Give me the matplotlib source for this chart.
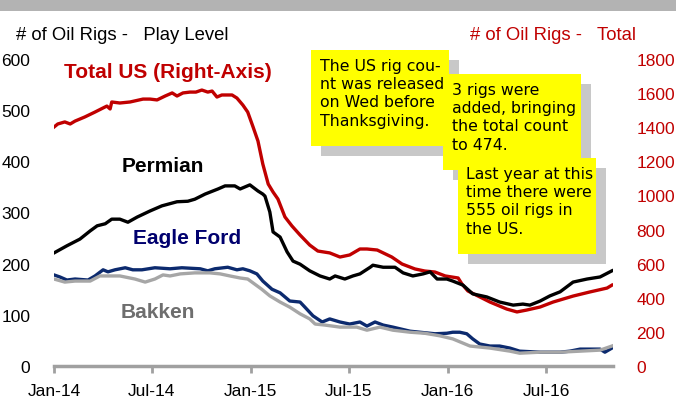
import matplotlib
matplotlib.use('Agg')
import matplotlib.pyplot as plt
import pandas as pd
from matplotlib.patches import Rectangle

# ---------------- data ----------------
base_date = '2014-01-01'

total_day = [0, 7, 20, 30, 39, 57, 76, 91, 98, 104, 107, 122, 141, 165, 178, 191, 206, 219, 228, 239,
             252, 263, 274, 285, 293, 302, 311, 330, 339, 350, 359, 369, 378, 387, 397, 406, 415, 428, 441, 456,
             474, 489, 511, 530, 548, 567, 580, 599, 626, 645, 669, 687, 706, 725, 749, 756, 767, 786, 808, 839,
             858, 876, 901, 925, 962, 993, 1025, 1034]
total_us = [1401, 1419, 1431, 1419, 1436, 1460, 1489, 1513, 1524, 1507, 1548, 1542, 1548, 1565, 1565, 1560, 1583, 1601, 1583, 1601,
            1606, 1606, 1618, 1606, 1612, 1577, 1589, 1589, 1571, 1530, 1489, 1401, 1319, 1184, 1067, 1020, 979, 874, 821, 768,
            709, 674, 663, 639, 651, 686, 686, 680, 639, 598, 569, 557, 551, 528, 516, 481, 440, 410, 375, 334,
            317, 328, 346, 375, 410, 434, 457, 474]

permian_day = [0, 24, 48, 67, 80, 95, 107, 122, 137, 154, 178, 200, 228, 248, 261, 280, 304, 317, 335, 345,
               363, 378, 387, 391, 400, 406, 419, 432, 443, 456, 474, 493, 511, 521, 539, 554, 567, 586, 591, 610,
               632, 647, 665, 684, 697, 710, 728, 739, 758, 776, 802, 826, 851, 869, 882, 901, 919, 938, 962, 988,
               1012, 1034]
permian = [221, 235, 248, 264, 274, 278, 287, 287, 281, 291, 303, 313, 321, 322, 326, 336, 346, 352, 352, 346,
           354, 342, 336, 332, 301, 262, 252, 223, 205, 199, 186, 176, 170, 176, 170, 176, 180, 193, 197, 193,
           193, 182, 176, 180, 184, 170, 170, 166, 158, 141, 135, 125, 119, 121, 119, 127, 137, 145, 164, 170,
           174, 186]

eagle_day = [0, 11, 24, 39, 63, 76, 91, 100, 113, 132, 146, 163, 187, 215, 237, 271, 285, 298, 322, 339,
             350, 363, 376, 387, 404, 419, 437, 456, 465, 480, 497, 511, 530, 548, 567, 580, 595, 610, 628, 660,
             678, 706, 728, 739, 752, 765, 776, 789, 808, 826, 845, 863, 901, 938, 956, 975, 1012, 1021, 1034]
eagle_ford = [178, 174, 168, 170, 168, 176, 188, 184, 188, 192, 188, 188, 192, 190, 192, 190, 186, 190, 193, 188,
              190, 186, 180, 166, 150, 143, 127, 125, 115, 98, 86, 92, 86, 82, 86, 78, 86, 80, 76, 68,
              66, 63, 64, 66, 66, 63, 53, 43, 39, 39, 35, 29, 27, 27, 29, 33, 33, 27, 35]

bakken_day = [0, 20, 39, 67, 85, 122, 150, 169, 187, 202, 215, 234, 261, 289, 308, 326, 345, 359, 372, 385,
              400, 419, 437, 456, 474, 484, 502, 530, 561, 580, 604, 628, 660, 687, 715, 739, 771, 808, 845, 863,
              901, 938, 975, 1012, 1034]
bakken = [170, 164, 166, 166, 176, 176, 170, 164, 170, 178, 176, 180, 182, 182, 180, 176, 172, 170, 160, 150,
          137, 125, 115, 102, 92, 82, 80, 76, 76, 70, 76, 70, 66, 64, 59, 53, 39, 35, 29, 25,
          27, 27, 29, 31, 39]

x_ticks = ['2014-01-01', '2014-07-01', '2015-01-01', '2015-07-01', '2016-01-01', '2016-07-01']
x_labels = ['Jan-14', 'Jul-14', 'Jan-15', 'Jul-15', 'Jan-16', 'Jul-16']
left_ticks = [0, 100, 200, 300, 400, 500, 600]
right_ticks = [0, 200, 400, 600, 800, 1000, 1200, 1400, 1600, 1800]

series_labels = ['Total US (Right-Axis)', 'Permian', 'Eagle Ford', 'Bakken']
left_title = '# of Oil Rigs -   Play Level'
right_title = '# of Oil Rigs -   Total'
notes = ['The US rig cou-\nnt was released\non Wed before\nThanksgiving.',
         '3 rigs were\nadded, bringing\nthe total count\nto 474.',
         'Last year at this\ntime there were\n555 oil rigs in\nthe US.']

# ---------------- figure ----------------
W, H = 676, 402
fig = plt.figure(figsize=(W / 100, H / 100), dpi=100)
fig.patch.set_facecolor('white')

def fx(x):
    return x / W

def fy(y):
    return 1 - y / H

RED = '#c00000'
NAVY = '#0c2a6e'
GRAYL = '#a6a6a6'
AXG = '#a0a0a0'
FONT = 'Liberation Sans'

# top gray band
fig.patches.append(Rectangle((0, fy(12)), 1, 12 / H, transform=fig.transFigure,
                             facecolor='#b3b3b3', edgecolor='none', zorder=0))

ax = fig.add_axes([fx(54), fy(367), fx(613) - fx(54), fy(60) - fy(367)])
ax2 = ax.twinx()
ax.set_zorder(ax2.get_zorder() + 1)
ax.patch.set_visible(False)

b = pd.Timestamp(base_date)
to_dates = lambda d: b + pd.to_timedelta(d, unit='D')

ax2.plot(to_dates(total_day), total_us, color=RED, lw=2.4, solid_joinstyle='round')
ax.plot(to_dates(permian_day), permian, color='black', lw=2.4, solid_joinstyle='round')
ax.plot(to_dates(eagle_day), eagle_ford, color=NAVY, lw=2.4, solid_joinstyle='round')
ax.plot(to_dates(bakken_day), bakken, color=GRAYL, lw=2.4, solid_joinstyle='round')

xmin, xmax = pd.Timestamp('2014-01-01'), pd.Timestamp('2016-11-02')
ax.set_xlim(xmin, xmax)
ax.set_ylim(0, 600)
ax2.set_ylim(0, 1800)

ax.set_xticks(pd.to_datetime(x_ticks))
ax.set_xticklabels(x_labels, fontfamily=FONT, fontsize=12.5)
ax.set_yticks(left_ticks)
ax.set_yticklabels([str(v) for v in left_ticks], fontfamily=FONT, fontsize=12.5)
ax2.set_yticks(right_ticks)
ax2.set_yticklabels([str(v) for v in right_ticks], fontfamily=FONT, fontsize=12.5, color=RED)

for a in (ax, ax2):
    for s in ('top', 'left', 'right', 'bottom'):
        a.spines[s].set_visible(False)
ax.spines['bottom'].set_visible(True)
ax.spines['bottom'].set_color(AXG)
ax.spines['bottom'].set_linewidth(2.5)
ax.tick_params(axis='x', direction='out', length=5, width=2, color=AXG, pad=7)
ax.tick_params(axis='y', length=0, pad=17)
ax2.tick_params(axis='y', length=0, pad=17)

# axis titles
fig.text(fx(16), fy(36), left_title, fontfamily=FONT, fontsize=13.3, ha='left', va='center')
fig.text(fx(470), fy(36), right_title, fontfamily=FONT, fontsize=13.3, ha='left', va='center', color=RED)

# series labels
fig.text(fx(64), fy(72), series_labels[0], fontfamily=FONT, fontsize=15, fontweight='bold',
         color=RED, ha='left', va='center')
fig.text(fx(122), fy(167), series_labels[1], fontfamily=FONT, fontsize=15, fontweight='bold',
         color='black', ha='left', va='center')
fig.text(fx(133), fy(239), series_labels[2], fontfamily=FONT, fontsize=15, fontweight='bold',
         color='#00006e', ha='left', va='center')
fig.text(fx(121), fy(313), series_labels[3], fontfamily=FONT, fontsize=15, fontweight='bold',
         color='#6e6e6e', ha='left', va='center')

# note boxes: (x0, y0, x1, y1) in pixels, text left, first line top y
boxes = [(311, 51, 449, 147, 320, 59),
         (443, 75, 581, 171, 452, 83),
         (458, 159, 596, 255, 466, 167)]
for (x0, y0, x1, y1, tx, ty), note in zip(boxes, notes):
    fig.patches.append(Rectangle((fx(x0 + 10), fy(y1 + 10)), (x1 - x0) / W, (y1 - y0) / H,
                                 transform=fig.transFigure, facecolor='#c8c8c8',
                                 edgecolor='none', zorder=5))
    fig.patches.append(Rectangle((fx(x0), fy(y1)), (x1 - x0) / W, (y1 - y0) / H,
                                 transform=fig.transFigure, facecolor='#ffff00',
                                 edgecolor='none', zorder=6))
    fig.text(fx(tx), fy(ty), note, fontfamily='DejaVu Sans', fontsize=11.3, ha='left', va='top',
             linespacing=1.27, zorder=7)

fig.savefig('out.png', dpi=100)
